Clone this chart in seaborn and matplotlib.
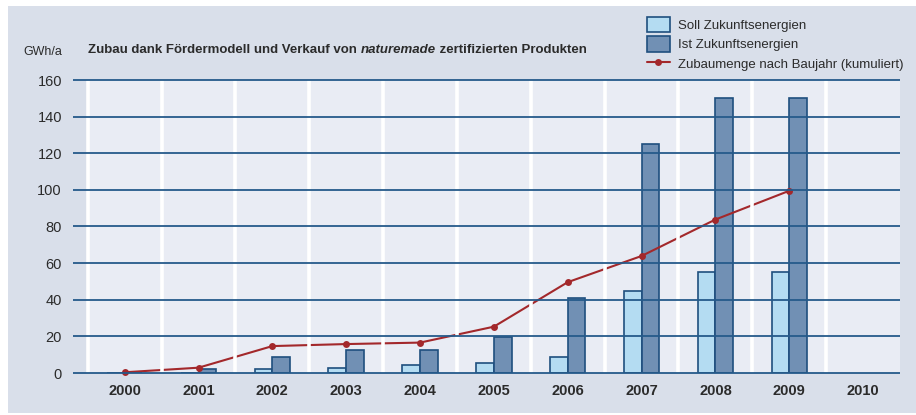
import numpy as np
import pandas as pd
import seaborn as sns
import matplotlib.pyplot as plt
from matplotlib.patches import Rectangle

# Werte (GWh/a)
jahre = ["2000", "2001", "2002", "2003", "2004", "2005", "2006", "2007", "2008", "2009", "2010"]
soll = [0, 0, 2.3, 2.9, 4.2, 5.3, 8.9, 45, 55.2, 55.2]
ist = [0, 2.0, 8.5, 12.4, 12.4, 19.6, 41, 125, 150, 150]
kumuliert = [0.4, 2.9, 14.7, 15.8, 16.6, 25.3, 49.6, 63.9, 83.8, 99.5]
y_ticks = [0, 20, 40, 60, 80, 100, 120, 140, 160]

lbl_soll = "Soll Zukunftsenergien"
lbl_ist = "Ist Zukunftsenergien"
lbl_line = "Zubaumenge nach Baujahr (kumuliert)"

outer_bg = "#d9dfea"
inner_bg = "#e9ecf4"
grid_col = "#255a8a"
edge_col = "#1f4f7e"
text_col = "#2b2b2b"

df = pd.DataFrame({
    "Jahr": jahre[:10] * 2,
    "Wert": soll + ist,
    "Serie": [lbl_soll] * 10 + [lbl_ist] * 10,
})

sns.set_style("white")
plt.rcParams["font.family"] = ["Liberation Sans", "DejaVu Sans"]

fig = plt.figure(figsize=(9.16, 4.15), dpi=100, facecolor="white")
fig.add_artist(Rectangle((8 / 916, 2 / 415), 1, 407 / 415, transform=fig.transFigure,
                         facecolor=outer_bg, edgecolor="none", zorder=-1))
ax = fig.add_axes([73 / 916, 42 / 415, 827 / 916, 293 / 415])
ax.set_facecolor(outer_bg)
ax.axvspan(-0.5, 10.5, color=inner_bg, zorder=0, lw=0)

sns.barplot(data=df, x="Jahr", y="Wert", hue="Serie", order=jahre,
            palette={lbl_soll: "#b4dcf2", lbl_ist: "#7190b4"},
            width=0.48, saturation=1, edgecolor=edge_col, linewidth=1.2,
            errorbar=None, ax=ax, zorder=2)

sns.lineplot(x=np.arange(len(kumuliert)), y=kumuliert, color="#a3282b", lw=1.5,
             marker="o", markersize=5, markeredgewidth=0, label=lbl_line,
             ax=ax, zorder=3, clip_on=False)

# weisse Trennlinien zwischen den Jahren
ax.vlines(np.arange(-0.5, 10, 1), 0, 160, color="white", lw=2.6, zorder=4)
# horizontale Gitterlinien
ax.hlines(y_ticks, -0.7, 10.5, color=grid_col, lw=1.3, zorder=5, clip_on=False)

ax.set_xlim(-0.7, 10.5)
ax.set_ylim(0, 160)
ax.set_yticks(y_ticks)
ax.set_xlabel("")
ax.set_ylabel("")
for s in ax.spines.values():
    s.set_visible(False)
ax.tick_params(axis="y", length=0, pad=8, labelsize=10.5, labelcolor=text_col)
ax.tick_params(axis="x", length=0, pad=8, labelsize=10.5, labelcolor=text_col)
for t in ax.get_xticklabels():
    t.set_fontweight("bold")

fig.text(62 / 916, 1 - 52 / 415, "GWh/a", ha="right", va="center", fontsize=9, color=text_col)
t1 = fig.text(88 / 916, 1 - 50 / 415, "Zubau dank Fördermodell und Verkauf von ",
              ha="left", va="center", fontsize=9.5, fontweight="bold", color=text_col)
t2 = ax.annotate("naturemade", xy=(1, 0), xycoords=t1, va="bottom", ha="left",
                 fontsize=9.5, fontweight="bold", style="italic", color=text_col,
                 annotation_clip=False)
ax.annotate(" zertifizierten Produkten", xy=(1, 0), xycoords=t2, va="bottom", ha="left",
            fontsize=9.5, fontweight="bold", color=text_col, annotation_clip=False)

handles, labels = ax.get_legend_handles_labels()
ax.legend(handles, labels, loc="upper left", bbox_to_anchor=(640 / 916, 1 - 10 / 415),
          bbox_transform=fig.transFigure, frameon=False, fontsize=9.5,
          handlelength=1.8, handleheight=1.4, handletextpad=0.6, labelspacing=0.35,
          borderpad=0, labelcolor=text_col)

fig.savefig("out.png", dpi=100, facecolor="white")
